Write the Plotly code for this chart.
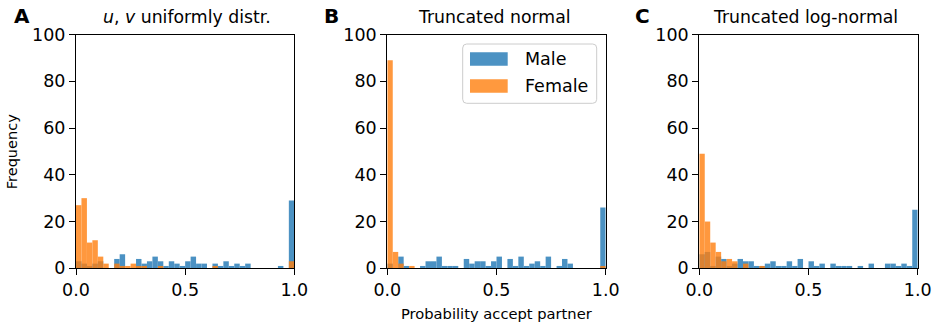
import numpy as np
import plotly.graph_objects as go

# ---------------- data ----------------
BIN_EDGES = np.linspace(0.0, 1.0, 41)

titles = ["<i>u</i>, <i>v</i> uniformly distr.", "Truncated normal", "Truncated log-normal"]
panel_letters = ["A", "B", "C"]
series_names = ["Male", "Female"]
x_ticks = [0.0, 0.5, 1.0]
x_tick_labels = ["0.0", "0.5", "1.0"]
y_ticks = [0, 20, 40, 60, 80, 100]
y_tick_labels = ["0", "20", "40", "60", "80", "100"]

male_uniform = [3, 2, 1, 2, 3, 0, 0, 4, 6, 0, 0, 4, 2, 3, 5, 3, 1, 3, 2, 1,
                3, 5, 2, 2, 0, 2, 1, 3, 1, 2, 1, 2, 0, 0, 0, 0, 0, 1, 0, 29]
female_uniform = [27, 30, 11, 12, 5, 2, 0, 2, 1, 1, 2, 1, 1, 0, 0, 1, 0, 0, 0, 0,
                  0, 0, 0, 0, 0, 1, 0, 0, 0, 0, 0, 0, 0, 0, 0, 0, 0, 0, 0, 3]

male_normal = [2, 0, 5, 1, 0, 0, 1, 3, 3, 5, 1, 1, 1, 0, 4, 2, 3, 3, 1, 3,
               5, 0, 4, 1, 5, 1, 2, 3, 1, 5, 0, 1, 4, 2, 0, 0, 0, 0, 0, 26]
female_normal = [89, 7, 2, 0, 1, 0, 0, 0, 0, 0, 0, 0, 0, 0, 0, 0, 0, 0, 0, 0,
                 0, 0, 0, 0, 0, 0, 0, 0, 0, 0, 0, 0, 0, 0, 0, 0, 0, 0, 0, 1]

male_lognormal = [6, 7, 1, 5, 4, 1, 2, 4, 3, 3, 1, 1, 2, 3, 1, 1, 3, 1, 4, 0,
                  3, 1, 2, 0, 2, 1, 1, 1, 0, 1, 0, 2, 0, 0, 2, 2, 1, 2, 1, 25]
female_lognormal = [49, 20, 11, 7, 3, 4, 3, 0, 2, 0, 0, 1, 0, 0, 0, 0, 0, 0, 0, 0,
                    0, 0, 0, 0, 0, 0, 0, 0, 0, 0, 0, 0, 0, 0, 0, 0, 0, 0, 0, 0]

panels = [(male_uniform, female_uniform),
          (male_normal, female_normal),
          (male_lognormal, female_lognormal)]

# ---------------- style ----------------
W, H = 938, 328
BLUE = "rgba(31,119,180,0.8)"
ORANGE = "rgba(255,127,14,0.8)"
FONT = "DejaVu Sans"
TICK_SIZE = 17.5


def px(x):
    return x / W


def py(y):
    return 1 - y / H


x_domains_px = [(76.0, 294.3), (387.3, 605.7), (699.3, 917.7)]
y_top_px, y_bot_px = 34.5, 268.3

centers = (BIN_EDGES[:-1] + BIN_EDGES[1:]) / 2
widths = np.diff(BIN_EDGES)

fig = go.Figure()
layout = dict(
    template="none",
    width=W, height=H,
    margin=dict(l=0, r=0, t=0, b=0, pad=0, autoexpand=False),
    paper_bgcolor="white", plot_bgcolor="white",
    barmode="overlay", showlegend=False,
    font=dict(family=FONT, color="black", size=TICK_SIZE),
)

annotations = []
shapes = []

for i, (male, female) in enumerate(panels):
    s = "" if i == 0 else str(i + 1)
    xa, ya = "x" + s, "y" + s
    for vals, color, name in [(male, "rgb(31,119,180)", series_names[0]),
                              (female, "rgb(255,127,14)", series_names[1])]:
        fig.add_trace(go.Bar(
            x=centers, y=vals, width=widths, name=name,
            marker=dict(color=color, line=dict(width=0)),
            opacity=0.8, xaxis=xa, yaxis=ya,
        ))
    x0, x1 = x_domains_px[i]
    common = dict(showgrid=False, zeroline=False, showline=True, mirror=True,
                  automargin=False,
                  linecolor="black", linewidth=1.1, ticks="outside", ticklen=6,
                  tickwidth=1.1, tickcolor="black",
                  tickfont=dict(family=FONT, size=TICK_SIZE, color="black"))
    layout["xaxis" + s] = dict(domain=[px(x0), px(x1)], range=[0, 1], anchor=ya,
                               tickvals=x_ticks, ticktext=x_tick_labels, **common)
    layout["yaxis" + s] = dict(domain=[py(y_bot_px), py(y_top_px)], range=[0, 100],
                               anchor=xa, tickvals=y_ticks, ticktext=y_tick_labels,
                               **common)
    # title
    title_shift = [2, -2, -3][i]
    annotations.append(dict(text=titles[i], x=px((x0 + x1) / 2 + title_shift), y=py(17.5),
                            xref="paper", yref="paper", showarrow=False,
                            xanchor="center", yanchor="middle",
                            font=dict(family=FONT, size=17.3, color="black")))
    # panel letter
    letter_x = [11.5, 322.0, 633.0][i]
    annotations.append(dict(text="<b>" + panel_letters[i] + "</b>", x=px(letter_x),
                            y=py(16.5), xref="paper", yref="paper", showarrow=False,
                            xanchor="left", yanchor="middle",
                            font=dict(family=FONT, size=20, color="black")))

# axis labels
annotations.append(dict(text="Frequency", x=px(12.8), y=py(151.4), xref="paper",
                        yref="paper", showarrow=False, textangle=-90,
                        xanchor="center", yanchor="middle",
                        font=dict(family=FONT, size=14.5, color="black")))
annotations.append(dict(text="Probability accept partner", x=px(496.5), y=py(313),
                        xref="paper", yref="paper", showarrow=False,
                        xanchor="center", yanchor="middle",
                        font=dict(family=FONT, size=14.7, color="black")))

# manual legend in panel B
lx0, lx1, ly0, ly1, r = 462.7, 596.7, 44.0, 103.3, 4.0


def rounded_path(x0, y0, x1, y1, r):
    pts = [
        f"M{px(x0 + r)},{py(y0)}",
        f"L{px(x1 - r)},{py(y0)}",
        f"Q{px(x1)},{py(y0)} {px(x1)},{py(y0 + r)}",
        f"L{px(x1)},{py(y1 - r)}",
        f"Q{px(x1)},{py(y1)} {px(x1 - r)},{py(y1)}",
        f"L{px(x0 + r)},{py(y1)}",
        f"Q{px(x0)},{py(y1)} {px(x0)},{py(y1 - r)}",
        f"L{px(x0)},{py(y0 + r)}",
        f"Q{px(x0)},{py(y0)} {px(x0 + r)},{py(y0)}",
        "Z",
    ]
    return " ".join(pts)


shapes.append(dict(type="path", xref="paper", yref="paper",
                   path=rounded_path(lx0, ly0, lx1, ly1, r),
                   fillcolor="rgba(255,255,255,0.8)",
                   line=dict(color="rgb(204,204,204)", width=1)))
for name, color, yc in [(series_names[0], BLUE, 59.0), (series_names[1], ORANGE, 86.0)]:
    shapes.append(dict(type="rect", xref="paper", yref="paper",
                       x0=px(470.0), x1=px(507.7), y0=py(yc - 6.7), y1=py(yc + 6.7),
                       fillcolor=color, line=dict(width=0)))
    annotations.append(dict(text=name, x=px(522.5), y=py(yc), xref="paper",
                            yref="paper", showarrow=False, xanchor="left",
                            yanchor="middle",
                            font=dict(family=FONT, size=17.5, color="black")))

layout["annotations"] = annotations
layout["shapes"] = shapes
fig.update_layout(**layout)
fig.write_html("out.html")
